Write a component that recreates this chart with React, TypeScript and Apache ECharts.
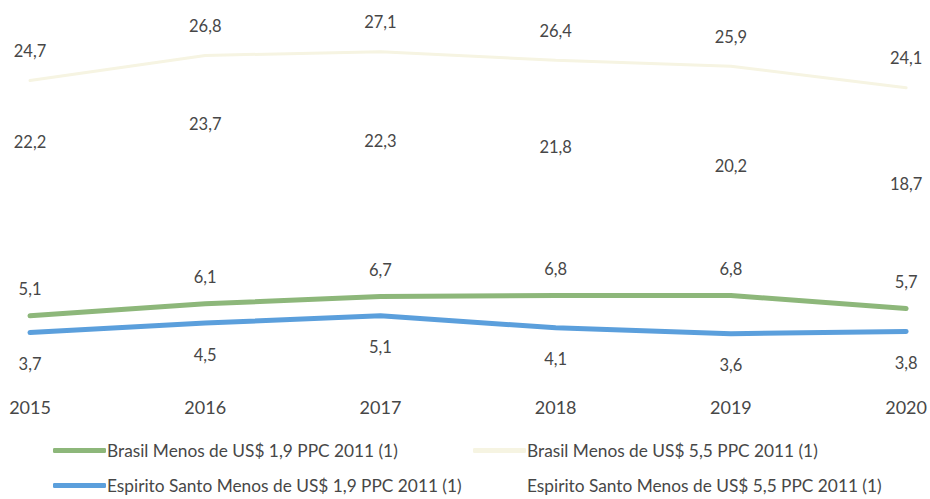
import React, { useEffect, useRef } from "react";
import * as echarts from "echarts";

const years = ["2015", "2016", "2017", "2018", "2019", "2020"];
const brasil19 = [5.1, 6.1, 6.7, 6.8, 6.8, 5.7];
const brasil55 = [24.7, 26.8, 27.1, 26.4, 25.9, 24.1];
const es19 = [3.7, 4.5, 5.1, 4.1, 3.6, 3.8];
const es55 = [22.2, 23.7, 22.3, 21.8, 20.2, 18.7];

const names = [
  "Brasil Menos de US$ 1,9 PPC 2011 (1)",
  "Brasil Menos de US$ 5,5 PPC 2011 (1)",
  "Espirito Santo Menos de US$ 1,9 PPC 2011 (1)",
  "Espirito Santo Menos de US$ 5,5 PPC 2011 (1)",
];
const colors = ["#8db77a", "#f6f4e2", "#5b9fdc", "#ffffff"];

const FONT = "Lato, 'Liberation Sans', sans-serif";
const TEXT = "#474747";

export default function App() {
  const ref = useRef<HTMLDivElement>(null);
  useEffect(() => {
    if (!ref.current) return;
    const chart = echarts.init(ref.current, undefined, { renderer: "svg" });
    const fmt = (p: any) => String(p.value).replace(".", ",");
    const mk = (
      i: number,
      data: number[],
      width: number,
      pos: "top" | "bottom",
      dist: number
    ) => ({
      name: names[i],
      type: "line",
      data,
      symbol: "circle",
      symbolSize: 0,
      itemStyle: { color: colors[i] },
      smooth: false,
      lineStyle: { color: colors[i], width, cap: "round" },
      label: {
        show: true,
        position: pos,
        distance: dist,
        formatter: fmt,
        fontSize: 16.5,
        fontFamily: FONT,
        color: TEXT,
        opacity: 1,
      },
      labelLayout: { hideOverlap: false },
    });
    const legendBase = {
      icon: "roundRect",
      itemWidth: 53,
      itemHeight: 5,
      padding: 0,
      selectedMode: false,
      textStyle: { fontSize: 17.3, fontFamily: FONT, color: TEXT, padding: [0, 0, 0, -4] },
    };
    const ld = (i: number) => [{ name: names[i], itemStyle: { color: colors[i] } }];
    chart.setOption({
      animation: false,
      backgroundColor: "#ffffff",
      grid: { left: 30, right: 23, top: 17, bottom: 122, containLabel: false },
      xAxis: {
        type: "category",
        data: years,
        boundaryGap: false,
        axisLine: { show: false },
        axisTick: { show: false },
        axisLabel: { fontSize: 18, fontFamily: FONT, color: TEXT, margin: 21 },
      },
      yAxis: { type: "value", min: 0, max: 30, show: false, splitLine: { show: false } },
      legend: [
        { ...legendBase, data: ld(0), left: 53, top: 442 },
        { ...legendBase, data: ld(1), left: 473, top: 442 },
        { ...legendBase, data: ld(2), left: 53, top: 477 },
        { ...legendBase, data: ld(3), left: 473, top: 477 },
      ],
      series: [
        mk(0, brasil19, 5, "top", 18),
        mk(1, brasil55, 3, "top", 21),
        mk(2, es19, 5, "bottom", 23),
        mk(3, es55, 3, "bottom", 23),
      ],
    });
    return () => chart.dispose();
  }, []);
  return <div ref={ref} style={{ width: 930, height: 499, position: "absolute", left: 0, top: 0 }} />;
}
